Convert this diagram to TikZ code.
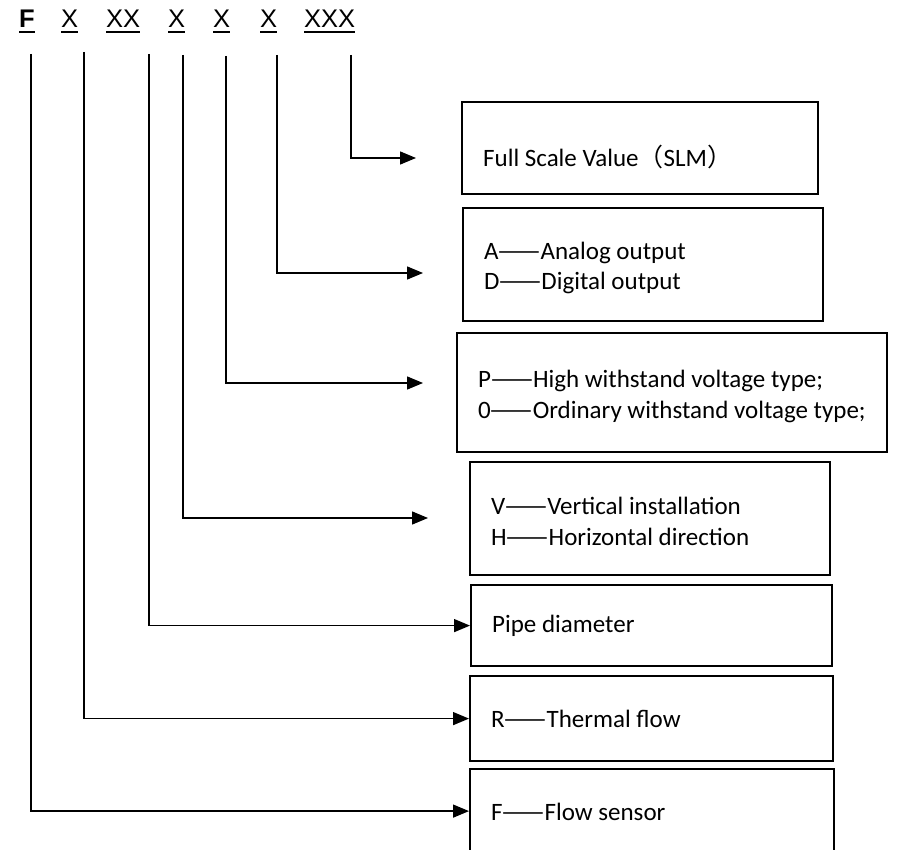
\documentclass[tikz,border=0pt]{standalone}
\usepackage{fontspec}
\setmainfont{Carlito}
\newfontfamily\hdrfont{Liberation Sans}
\newfontfamily\cjk{Noto Sans CJK SC}
\newcommand{\dd}{{\cjk ——}}
\usetikzlibrary{arrows.meta}
\begin{document}
\begin{tikzpicture}[x=1pt,y=-1pt,
  box/.style={draw, line width=2.2pt, inner sep=0pt, anchor=north west},
  txt/.style={inner sep=0pt, anchor=base west, font=\fontsize{25}{30}\selectfont},
  hdr/.style={inner sep=0pt, anchor=base west, text depth=4pt, font=\hdrfont\fontsize{25.5}{30}\selectfont},
  uline/.style={line width=1.5pt},
  conn/.style={line width=1.5pt, -{Triangle[length=16pt,width=13pt]}}]
\path[fill=white] (0,0) rectangle (910,850);
\useasboundingbox (0,0) rectangle (910,850);
% header
\node[hdr] (h1) at (19,28) {\bfseries F};
\node[hdr] (h2) at (61,28) {X};
\node[hdr] (h3) at (106,28) {XX};
\node[hdr] (h4) at (168,28) {X};
\node[hdr] (h5) at (213,28) {X};
\node[hdr] (h6) at (260,28) {X};
\node[hdr] (h7) at (304,28) {XXX};
\foreach \i in {1,...,7} {\draw[uline] (h\i.south west) -- (h\i.south east);}
% boxes
\node[box, minimum width=356pt, minimum height=92pt] (b1) at (461,101) {};
\node[box, minimum width=360pt, minimum height=113pt] (b2) at (462,207) {};
\node[box, minimum width=430pt, minimum height=119pt] (b3) at (456,332) {};
\node[box, minimum width=360pt, minimum height=113pt] (b4) at (469,461) {};
\node[box, minimum width=361pt, minimum height=81pt] (b5) at (470,584) {};
\node[box, minimum width=363pt, minimum height=85pt] (b6) at (469,675) {};
\node[box, minimum width=364pt, minimum height=84pt] (b7) at (469,768) {};
% texts
\node[txt] (l1) at (483,167) {Full Scale Value{\cjk （}SLM{\cjk ）}};
\node[txt] (l2a) at (484,260) {A\dd Analog output};
\node[txt] (l2b) at (484,290) {D\dd Digital output};
\node[txt] (l3a) at (478,387) {P\dd High withstand voltage type;};
\node[txt] (l3b) at (478,418) {0\dd Ordinary withstand voltage type;};
\node[txt] (l4a) at (491,514) {V\dd Vertical installation};
\node[txt] (l4b) at (491,545) {H\dd Horizontal direction};
\node[txt] (l5) at (492,632) {Pipe diameter};
\node[txt] (l6) at (491,727) {R\dd Thermal flow};
\node[txt] (l7) at (491,820) {F\dd Flow sensor};
% connector start points
\coordinate (t1) at (31,54);
\coordinate (t2) at (84,52);
\coordinate (t3) at (149,54);
\coordinate (t4) at (183,55);
\coordinate (t5) at (226,56);
\coordinate (t6) at (277,55);
\coordinate (t7) at (351,55);
% free arrow ends
\coordinate (e1) at (416,158);
\coordinate (e2) at (423,273);
\coordinate (e3) at (423,383);
\coordinate (e4) at (428,518);
% connectors
\draw[conn] (t7) |- (e1);
\draw[conn] (t6) |- (e2);
\draw[conn] (t5) |- (e3);
\draw[conn] (t4) |- (e4);
\draw[conn] (t3) |- (b5.west);
\draw[conn] (t2) |- (b6.west);
\draw[conn] (t1) |- (b7.west);
\end{tikzpicture}
\end{document}
